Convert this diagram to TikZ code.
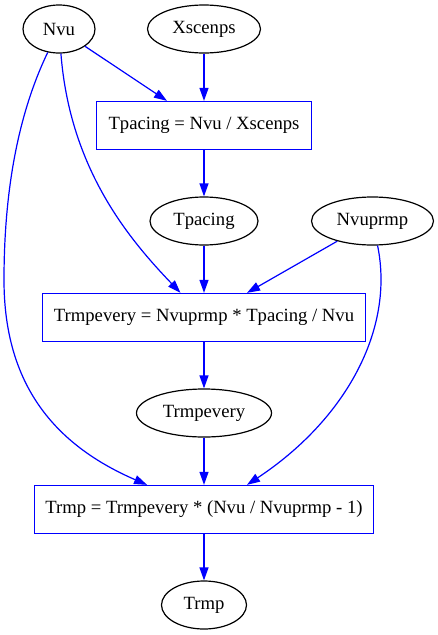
\documentclass[tikz,border=0pt]{standalone}
\usepackage{fontspec}
\setmainfont{Liberation Serif}
\usetikzlibrary{shapes.geometric,arrows.meta}
\begin{document}
\begin{tikzpicture}[x=1pt,y=-1pt,
  every node/.style={font=\fontsize{18.67}{22}\selectfont},
  var/.style={draw,ellipse,line width=1.2pt,inner sep=0pt,minimum height=48pt},
  eqn/.style={rectangle,draw,color=blue,text=black,line width=1.3pt,inner sep=0pt,minimum height=48pt},
  flow/.style={draw=blue,line width=1.2pt,-{Triangle[length=13pt,width=9pt]}}]
\useasboundingbox (0,0) rectangle (437,635);
% variables
\foreach \n/\t/\x/\y/\w in {nvu/Nvu/59/29/72,xscenps/Xscenps/204/29/113,tpacing/Tpacing/204/221/108,nvuprmp/Nvuprmp/372.5/221/122,trmpevery/Trmpevery/204/413/135,trmp/Trmp/204/605/85}
  \node[var,minimum width=\w pt] (\n) at (\x,\y) {\t};
% equations
\node[eqn,minimum width=215pt] (eq1) at (204,125.5) {Tpacing = Nvu / Xscenps};
\node[eqn,minimum width=323pt] (eq2) at (204,317.5) {Trmpevery = Nvuprmp * Tpacing / Nvu};
\node[eqn,minimum width=339pt] (eq3) at (204,509.5) {Trmp = Trmpevery * (Nvu / Nvuprmp - 1)};
% dependencies
\draw[flow] (nvu) -- (eq1);
\draw[flow] (xscenps) -- (eq1);
\draw[flow] (eq1) -- (tpacing);
\draw[flow] (nvu) .. controls (70,170) and (130,240) .. (eq2);
\draw[flow] (tpacing) -- (eq2);
\draw[flow] (nvuprmp) -- (eq2);
\draw[flow] (eq2) -- (trmpevery);
\draw[flow] (nvu) .. controls (20,110) and (4,185) .. (4,280) .. controls (4,385) and (55,445) .. (eq3);
\draw[flow] (trmpevery) -- (eq3);
\draw[flow] (nvuprmp) .. controls (395,330) and (345,420) .. ([xshift=43pt]eq3.north);
\draw[flow] (eq3) -- (trmp);
\end{tikzpicture}
\end{document}
